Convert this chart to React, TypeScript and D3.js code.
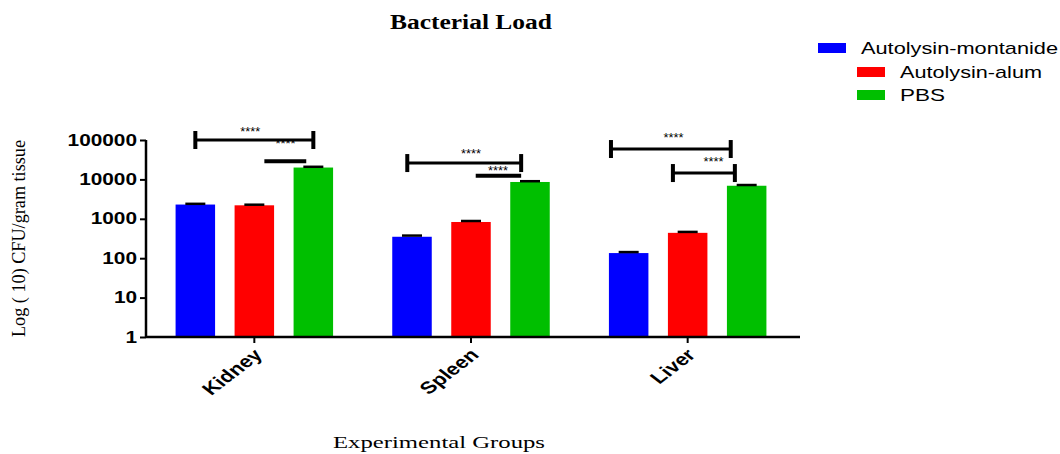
import React, { useEffect, useRef } from 'react';
import * as d3 from 'd3';

const categories = ['Kidney', 'Spleen', 'Liver'];
const groups = ['Autolysin-montanide', 'Autolysin-alum', 'PBS'];
const colors = ['#0000ff', '#ff0000', '#00bf00'];
const montanide = [2300, 350, 135];
const alum = [2200, 830, 440];
const pbs = [20000, 8600, 6900];
const montanideErr = [100, 25, 8];
const alumErr = [80, 50, 25];
const pbsErr = [900, 400, 300];
const yTicks = [1, 10, 100, 1000, 10000, 100000];

// significance bars: category, start/end in bar units (0 = first bar), level, caps, star position
const sigCategory = [0, 0, 1, 1, 2, 2];
const sigFrom = [0, 1.17, -0.08, 1.08, -0.3, 0.75];
const sigTo = [2, 1.88, 1.85, 1.85, 1.73, 1.8];
const sigLevel = [100000, 29000, 26000, 12300, 59000, 14500];
const sigCaps = [true, false, true, false, true, true];
const sigStarAt = [0.93, 1.53, 1.0, 1.46, 0.76, 1.44];
const sigStarDy = [-4, -13, -5, -1, -7, -7];

const SANS = 'Liberation Sans, Arial, sans-serif';
const SERIF = 'Liberation Serif, Times New Roman, serif';

function BarChart() {
  const ref = useRef<SVGSVGElement>(null);

  useEffect(() => {
    const svg = d3.select(ref.current);
    svg.selectAll('*').remove();

    const left = 146;
    const right = 800;
    const top = 140;
    const bottom = 337;

    const x = d3.scaleBand().domain(categories).range([146, 796]);
    const y = d3.scaleLog().domain([1, 100000]).range([bottom, top]);

    const barW = 39.5;
    const barStep = 59;
    const barX = (ci: number, gi: number) =>
      (x(categories[ci]) as number) + x.bandwidth() / 2 + (gi - 1) * barStep;

    const series = [montanide, alum, pbs];
    const errs = [montanideErr, alumErr, pbsErr];

    // title
    svg.append('text')
      .attr('x', 471).attr('y', 29)
      .attr('text-anchor', 'middle')
      .attr('font-family', SERIF)
      .attr('font-weight', 'bold')
      .attr('font-size', 20)
      .attr('textLength', 162)
      .attr('lengthAdjust', 'spacingAndGlyphs')
      .text('Bacterial Load');

    // bars
    series.forEach((vals, gi) => {
      svg.append('g')
        .selectAll('rect')
        .data(vals)
        .join('rect')
        .attr('x', (d, ci) => barX(ci, gi) - barW / 2)
        .attr('y', d => y(d))
        .attr('width', barW)
        .attr('height', d => bottom - y(d))
        .attr('fill', colors[gi]);

      // error bars
      svg.append('g')
        .selectAll('line')
        .data(vals)
        .join('line')
        .attr('x1', (d, ci) => barX(ci, gi) - 10)
        .attr('x2', (d, ci) => barX(ci, gi) + 10)
        .attr('y1', (d, ci) => y(d + errs[gi][ci]))
        .attr('y2', (d, ci) => y(d + errs[gi][ci]))
        .attr('stroke', '#000')
        .attr('stroke-width', 2.5);
    });

    // axes
    const yAxis = d3.axisLeft(y)
      .tickValues(yTicks)
      .tickFormat(d3.format('d'))
      .tickSize(6)
      .tickSizeOuter(0);
    const gy = svg.append('g')
      .attr('transform', `translate(${left},0)`)
      .call(yAxis);
    gy.select('.domain').attr('stroke-width', 2.5).attr('d', `M0,${bottom + 1}V${top}`);
    gy.selectAll('.tick line').attr('stroke-width', 2);
    gy.selectAll<SVGTextElement, number>('.tick text')
      .attr('font-family', SANS)
      .attr('font-weight', 'bold')
      .attr('font-size', 16)
      .attr('fill', '#000')
      .attr('x', -9)
      .each(function () {
        const w = this.getComputedTextLength();
        d3.select(this).attr('textLength', w * 1.3).attr('lengthAdjust', 'spacingAndGlyphs');
      });

    const xAxis = d3.axisBottom(x).tickSize(6).tickSizeOuter(0);
    const gx = svg.append('g')
      .attr('transform', `translate(0,${bottom})`)
      .call(xAxis);
    gx.select('.domain').attr('stroke-width', 2.5).attr('d', `M${left},0H${right}`);
    gx.selectAll('.tick line').attr('stroke-width', 2);
    gx.selectAll('.tick text')
      .attr('font-family', SANS)
      .attr('font-weight', 'bold')
      .attr('font-size', 17)
      .attr('fill', '#000')
      .attr('text-anchor', 'end')
      .attr('x', 0)
      .attr('y', 0)
      .attr('dy', 0)
      .attr('transform', 'translate(9,19) scale(1.3,1) rotate(-45)');

    // significance
    sigCategory.forEach((ci, i) => {
      const x1 = barX(ci, 0) + sigFrom[i] * barStep;
      const x2 = barX(ci, 0) + sigTo[i] * barStep;
      const yy = y(sigLevel[i]);
      const g = svg.append('g');
      g.append('line')
        .attr('x1', x1).attr('x2', x2)
        .attr('y1', yy).attr('y2', yy)
        .attr('stroke', '#000')
        .attr('stroke-width', sigCaps[i] ? 3 : 4);
      if (sigCaps[i]) {
        [x1, x2].forEach(xx => {
          g.append('line')
            .attr('x1', xx).attr('x2', xx)
            .attr('y1', yy - 9).attr('y2', yy + 9)
            .attr('stroke', '#000')
            .attr('stroke-width', 4);
        });
      }
      g.append('text')
        .attr('x', barX(ci, 0) + sigStarAt[i] * barStep)
        .attr('y', yy + sigStarDy[i])
        .attr('text-anchor', 'middle')
        .attr('font-family', SANS)
        .attr('font-size', 12)
        .attr('textLength', 20)
        .attr('lengthAdjust', 'spacingAndGlyphs')
        .attr('fill', '#000')
        .text('****');
    });

    // axis titles
    svg.append('text')
      .attr('transform', `translate(25,${(top + bottom) / 2}) rotate(-90)`)
      .attr('text-anchor', 'middle')
      .attr('font-family', SERIF)
      .attr('font-size', 19)
      .attr('textLength', 197)
      .attr('lengthAdjust', 'spacingAndGlyphs')
      .text('Log ( 10) CFU/gram tissue');

    svg.append('text')
      .attr('x', 439).attr('y', 448)
      .attr('text-anchor', 'middle')
      .attr('font-family', SERIF)
      .attr('font-size', 17)
      .attr('textLength', 212)
      .attr('lengthAdjust', 'spacingAndGlyphs')
      .text('Experimental Groups');

    // legend
    const legendX = [818, 857, 857];
    const legendY = [48, 72, 95];
    const legendTextX = [861, 900, 900];
    const legendTextW = [197, 142, 45];
    groups.forEach((name, gi) => {
      svg.append('rect')
        .attr('x', legendX[gi]).attr('y', legendY[gi] - 5)
        .attr('width', 28).attr('height', 10)
        .attr('fill', colors[gi]);
      svg.append('text')
        .attr('x', legendTextX[gi]).attr('y', legendY[gi] + 6)
        .attr('font-family', SANS)
        .attr('font-size', 17)
        .attr('textLength', legendTextW[gi])
        .attr('lengthAdjust', 'spacingAndGlyphs')
        .text(name);
    });
  }, []);

  return <svg ref={ref} width={1060} height={454} style={{ position: 'absolute', left: 0, top: 0, background: '#fff' }} />;
}

export default function App() {
  return <BarChart />;
}
